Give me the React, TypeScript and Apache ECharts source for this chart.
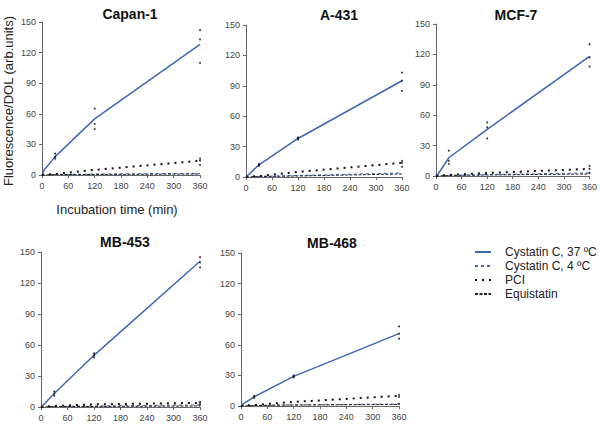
import React, { useEffect, useRef } from "react";
import * as echarts from "echarts";

const panelNames = ["Capan-1", "A-431", "MCF-7", "MB-453", "MB-468"];
const times = [0, 5, 30, 120, 360];

// Cystatin C, 37 ºC (means)
const warm = [
  [0, 5, 18, 55, 128],
  [0, 2, 12, 38, 95],
  [0, 2, 18, 46, 118],
  [0, 2, 13, 50, 141],
  [0, 2, 9, 29, 71],
];
// Cystatin C, 4 ºC
const cold = [
  [0, 0, 0.5, 1, 1.5],
  [0, 0, 0.5, 1.5, 4],
  [0, 0, 0.5, 1.5, 3],
  [0, 0, 0.5, 1, 2],
  [0, 0, 0.5, 1, 2],
];
// PCI
const pci = [
  [0, 0.5, 1, 5, 14],
  [0, 0.5, 1, 5, 14],
  [0, 0.5, 1, 3, 7],
  [0, 0.5, 1, 2.5, 4],
  [0, 0.5, 1, 4, 10],
];
// Equistatin
const equi = [
  [0, 0, 0.5, 0.5, 1],
  [0, 0, 0.5, 1, 3],
  [0, 0, 0.5, 1, 2],
  [0, 0, 0.5, 0.5, 1],
  [0, 0, 0.5, 1, 1.5],
];
// replicate measurements of Cystatin C, 37 ºC
const repTimes = [30, 30, 30, 120, 120, 120, 360, 360, 360];
const replicates = [
  [16, 18, 21, 45, 50, 65, 110, 133, 142],
  [11, 12, 13, 37, 38, 39, 85, 95, 103],
  [12, 15, 25, 37, 48, 53, 108, 117, 130],
  [11, 13, 15, 48, 50, 52, 135, 140, 145],
  [8, 9, 10, 28, 29, 30, 66, 71, 78],
];
// replicate markers of the inhibitor series at 360 min
const inhRep = [
  [10, 14, 16],
  [10, 14, 16],
  [3, 7, 10],
  [2, 4, 5],
  [2, 9, 11],
];

const grids = [
  { left: 42, top: 22, width: 158, height: 153 },
  { left: 246, top: 25, width: 156, height: 152 },
  { left: 436, top: 24, width: 155, height: 152 },
  { left: 41, top: 252, width: 159, height: 155 },
  { left: 241, top: 253, width: 158, height: 153 },
];
const titlePos = [
  { x: 125, y: 2 },
  { x: 334, y: 3 },
  { x: 511, y: 3 },
  { x: 120, y: 230 },
  { x: 327, y: 231 },
];

const BLUE = "#3d68b8";
const FONT = "Liberation Sans, Arial";

export default function App() {
  const ref = useRef<HTMLDivElement>(null);
  useEffect(() => {
    if (!ref.current) return;
    const chart = echarts.init(ref.current, null, { renderer: "svg" });
    const series: any[] = [];
    const xAxis: any[] = [];
    const yAxis: any[] = [];
    const title: any[] = [];
    panelNames.forEach((name, i) => {
      title.push({
        text: name,
        left: titlePos[i].x,
        top: titlePos[i].y,
        textAlign: "center",
        textStyle: { fontFamily: FONT, fontSize: 14, fontWeight: "bold", color: "#111" },
      });
      const axisCommon = {
        axisLine: { show: true, lineStyle: { color: "#666", width: 1 } },
        axisTick: { show: true, length: 3, lineStyle: { color: "#666" } },
        axisLabel: { fontSize: 9, color: "#444", margin: 6, fontFamily: FONT },
        splitLine: { show: false },
      };
      xAxis.push({ gridIndex: i, type: "value", min: 0, max: 360, interval: 60, ...axisCommon });
      yAxis.push({ gridIndex: i, type: "value", min: 0, max: 150, interval: 30, ...axisCommon });
      const mk = (arr: number[]) => times.map((t, k) => [t, arr[k]]);
      series.push({
        name: "Cystatin C, 37 ºC",
        type: "line",
        xAxisIndex: i,
        yAxisIndex: i,
        data: mk(warm[i]),
        symbol: "none",
        lineStyle: { color: BLUE, width: 1.5 },
        itemStyle: { color: BLUE },
      });
      series.push({
        name: "Cystatin C, 4 ºC",
        type: "line",
        xAxisIndex: i,
        yAxisIndex: i,
        data: mk(cold[i]),
        symbol: "none",
        lineStyle: { color: BLUE, width: 1, type: [3, 3] },
        itemStyle: { color: BLUE },
      });
      series.push({
        name: "PCI",
        type: "line",
        xAxisIndex: i,
        yAxisIndex: i,
        data: mk(pci[i]),
        symbol: "none",
        lineStyle: { color: "#111", width: 2, type: [2, 5] },
        itemStyle: { color: "#111" },
      });
      series.push({
        name: "Equistatin",
        type: "line",
        xAxisIndex: i,
        yAxisIndex: i,
        data: mk(equi[i]),
        symbol: "none",
        lineStyle: { color: "#222", width: 1, type: [3, 1.5] },
        itemStyle: { color: "#222" },
      });
      series.push({
        name: "rep" + i,
        type: "scatter",
        xAxisIndex: i,
        yAxisIndex: i,
        data: repTimes.map((t, k) => [t, replicates[i][k]]).concat(inhRep[i].map((v) => [360, v])),
        symbol: "circle",
        symbolSize: 2,
        itemStyle: { color: "#111" },
        z: 5,
      });
    });

    chart.setOption({
      animation: false,
      backgroundColor: "#fff",
      title,
      grid: grids.map((g) => ({ ...g, containLabel: false })),
      xAxis,
      yAxis,
      series,
      legend: {
        data: ["Cystatin C, 37 ºC", "Cystatin C, 4 ºC", "PCI", "Equistatin"],
        orient: "vertical",
        left: 474,
        top: 245,
        padding: 0,
        itemWidth: 16,
        itemHeight: 10,
        itemGap: 0,
        itemStyle: { opacity: 0 },
        textStyle: {
          fontSize: 12,
          lineHeight: 14,
          color: "#222",
          fontFamily: FONT,
          padding: [0, 0, 0, 9],
        },
        selectedMode: false,
      },
      graphic: [
        {
          type: "text",
          x: 8,
          y: 101,
          rotation: Math.PI / 2,
          style: {
            text: "Fluorescence/DOL (arb.units)",
            fontSize: 13,
            fill: "#222",
            fontFamily: FONT,
            align: "center",
            verticalAlign: "middle",
          },
        },
        {
          type: "text",
          x: 117,
          y: 209,
          style: {
            text: "Incubation time (min)",
            fontSize: 13,
            fill: "#222",
            fontFamily: FONT,
            align: "center",
            verticalAlign: "middle",
          },
        },
      ],
    });
    return () => chart.dispose();
  }, []);
  return (
    <div
      ref={ref}
      style={{ position: "fixed", left: 0, top: 0, width: 600, height: 425, background: "#fff" }}
    />
  );
}
